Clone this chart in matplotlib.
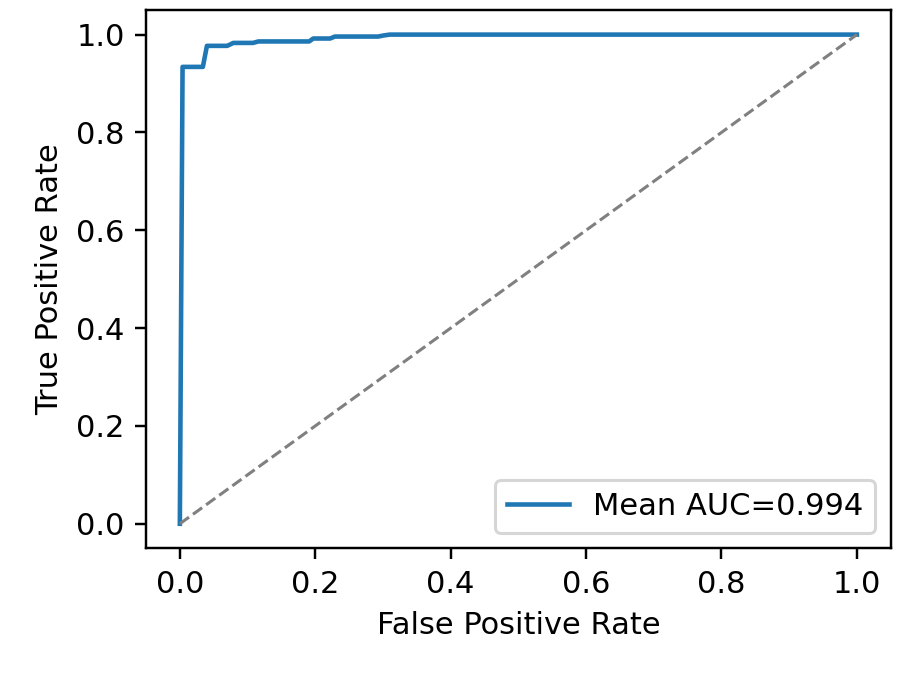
import matplotlib
matplotlib.use("Agg")
import matplotlib.pyplot as plt

mean_fpr = [0.0, 0.004, 0.034, 0.040, 0.070, 0.079, 0.108, 0.116, 0.191, 0.197,
            0.222, 0.229, 0.293, 0.300, 0.310, 1.0]
mean_tpr = [0.0, 0.934, 0.934, 0.977, 0.977, 0.983, 0.983, 0.986, 0.986, 0.992,
            0.992, 0.996, 0.996, 0.998, 1.0, 1.0]
mean_auc = 0.994
diag = [0.0, 1.0]

fig = plt.figure(figsize=(4.2, 676 / 220), dpi=220)
ax = fig.add_axes([0.158, 0.189, 0.806, 0.796])
ax.plot(mean_fpr, mean_tpr, color="#1f77b4", lw=1.5, label=f"Mean AUC={mean_auc:.3f}")
ax.plot(diag, diag, linestyle="--", color="gray", lw=1)
ax.set_xlabel("False Positive Rate")
ax.set_ylabel("True Positive Rate")
ax.legend(loc="lower right")
fig.savefig("out.png", dpi=220)
